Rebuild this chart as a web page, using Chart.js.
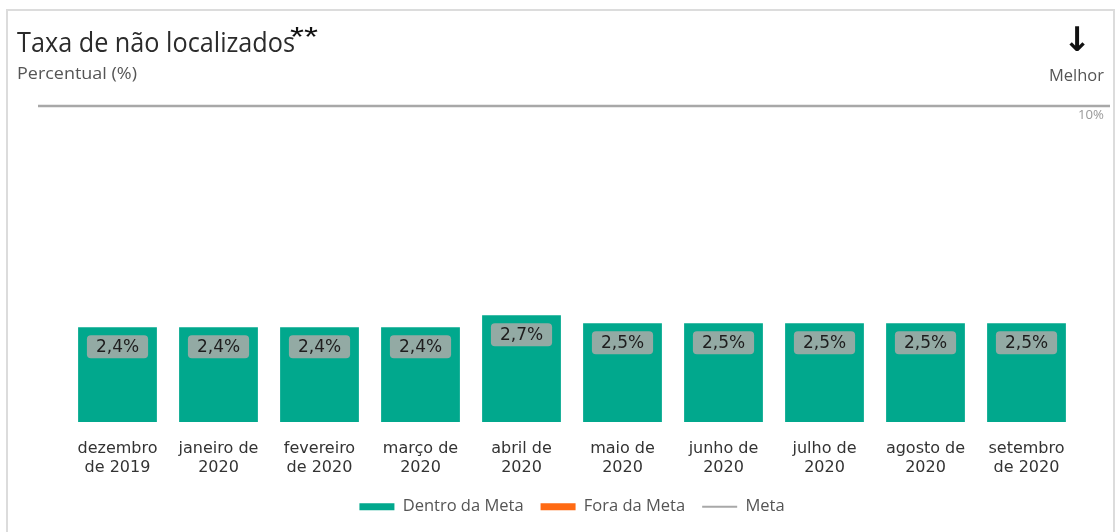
<!DOCTYPE html>
<html>
<head>
<meta charset="utf-8">
<script src="https://cdn.jsdelivr.net/npm/chart.js@4/dist/chart.umd.min.js"></script>
<style>
  html, body { margin:0; padding:0; background:#fff; }
  body { width:1118px; height:532px; position:relative; overflow:hidden; }
  #card { position:absolute; left:6px; top:9px; width:1109px; height:540px; border:2px solid #dcdcdc; box-sizing:border-box; }
  #wrap { position:absolute; left:0; top:0; width:1118px; height:532px; }
  .t { position:absolute; white-space:nowrap; transform-origin:0 0; }
  #title { left:17px; top:23px; font-family:"Open Sans"; font-size:27px; color:#2b2b2b; line-height:38px; }
  #stars { left:290px; top:22px; font-family:"Liberation Sans"; font-size:27px; color:#111; line-height:30px; }
  #sub { left:17px; top:61px; font-family:"Open Sans"; font-size:17px; color:#555; line-height:24px; }
  #arrow { left:1063px; top:20px; font-family:"DejaVu Sans"; font-size:34px; font-weight:bold; color:#111; line-height:38px; }
  #melhor { left:1049px; top:64px; font-family:"Open Sans"; font-size:16px; color:#555; line-height:22px; }
  #metaLbl { left:1078px; top:107px; font-family:"Open Sans"; font-size:12px; color:#999; line-height:16px; }
</style>
</head>
<body>
<div id="card"></div>
<div id="wrap"><canvas id="c" width="1118" height="532"></canvas></div>
<div class="t" id="title" data-fit="278">Taxa de não localizados</div>
<div class="t" id="stars" data-fit="28">**</div>
<div class="t" id="sub" data-fit="120">Percentual (%)</div>
<div class="t" id="arrow">↓</div>
<div class="t" id="melhor" data-fit="55">Melhor</div>
<div class="t" id="metaLbl" data-fit="26">10%</div>
<script>
// ---- data ----
const categories = [
  ['dezembro','de 2019'], ['janeiro de','2020'], ['fevereiro','de 2020'], ['março de','2020'],
  ['abril de','2020'], ['maio de','2020'], ['junho de','2020'], ['julho de','2020'],
  ['agosto de','2020'], ['setembro','de 2020']
];
const taxaValues = [2.4, 2.4, 2.4, 2.4, 2.7, 2.5, 2.5, 2.5, 2.5, 2.5];
const metaValues = [10, 10, 10, 10, 10, 10, 10, 10, 10, 10];
const seriesNames = ['Dentro da Meta', 'Fora da Meta', 'Meta'];

const dentroValues = taxaValues.map((v, i) => v <= metaValues[i] ? v : null);
const foraValues = taxaValues.map((v, i) => v > metaValues[i] ? v : null);

const TEAL = '#01a88d';
const ORANGE = '#ff6a13';
const GREY = '#a8a8a8';

// fit text widths
document.querySelectorAll('[data-fit]').forEach(el => {
  const target = parseFloat(el.dataset.fit);
  const w = el.getBoundingClientRect().width;
  if (w > 0) el.style.transform = 'scaleX(' + (target / w) + ')';
});

const fmt = v => v.toFixed(1).replace('.', ',') + '%';

const labelPlugin = {
  id: 'barLabels',
  afterDatasetsDraw(chart) {
    const ctx = chart.ctx;
    ctx.save();
    ctx.font = '17px "DejaVu Sans"';
    ctx.textAlign = 'center';
    ctx.textBaseline = 'middle';
    chart.data.datasets.forEach((ds, di) => {
      if (ds.type === 'line') return;
      const meta = chart.getDatasetMeta(di);
      meta.data.forEach((bar, i) => {
        const v = ds.data[i];
        if (v == null) return;
        const txt = fmt(v);
        const tw = ctx.measureText(txt).width;
        const w = tw + 18, h = 23;
        const x = bar.x - w / 2, y = bar.y + 8;
        ctx.fillStyle = '#93aaa4';
        ctx.beginPath();
        ctx.roundRect(x, y, w, h, 4);
        ctx.fill();
        ctx.fillStyle = '#1e1e1e';
        ctx.fillText(txt, bar.x, y + h / 2 + 1);
      });
    });
    ctx.restore();
  }
};

const metaLinePlugin = {
  id: 'metaLine',
  afterDatasetsDraw(chart) {
    const s = chart.scales.yMeta;
    const y = s.getPixelForValue(metaValues[0]);
    const a = chart.chartArea;
    const ctx = chart.ctx;
    ctx.save();
    ctx.strokeStyle = GREY;
    ctx.lineWidth = 2.5;
    ctx.beginPath();
    ctx.moveTo(a.left - 29, y);
    ctx.lineTo(a.right + 33, y);
    ctx.stroke();
    ctx.restore();
  }
};

new Chart(document.getElementById('c'), {
  data: {
    labels: categories,
    datasets: [
      { type: 'bar', label: seriesNames[0], data: dentroValues, backgroundColor: TEAL, grouped: false,
        barPercentage: 0.78, categoryPercentage: 1, yAxisID: 'y' },
      { type: 'bar', label: seriesNames[1], data: foraValues, backgroundColor: ORANGE, grouped: false,
        barPercentage: 0.78, categoryPercentage: 1, yAxisID: 'y' },
      { type: 'line', label: seriesNames[2], data: metaValues, borderColor: GREY, backgroundColor: GREY,
        showLine: false, pointRadius: 0, yAxisID: 'yMeta' }
    ]
  },
  options: {
    responsive: false,
    animation: false,
    layout: { padding: { left: 67, right: 41, top: 106, bottom: 7 } },
    scales: {
      x: {
        grid: { display: false, drawTicks: false },
        border: { display: false },
        ticks: { padding: 17, color: '#333', font: { family: 'DejaVu Sans', size: 16, lineHeight: 1.2 }, maxRotation: 0, autoSkip: false },
        afterFit: s => { s.height = 59.5; }
      },
      y: { display: false, min: 0, max: 8 },
      yMeta: { display: false, min: 0, max: 10 }
    },
    plugins: {
      tooltip: { enabled: false },
      legend: {
        position: 'bottom',
        labels: {
          color: '#555',
          font: { family: 'Open Sans', size: 16.5 },
          usePointStyle: true,
          pointStyleWidth: 35,
          boxHeight: 7,
          padding: 17,
          generateLabels: chart => chart.data.datasets.map((ds, i) => ({
            text: ds.label,
            fillStyle: ds.type === 'line' ? GREY : ds.backgroundColor,
            strokeStyle: ds.type === 'line' ? GREY : ds.backgroundColor,
            lineWidth: ds.type === 'line' ? 2 : 0,
            pointStyle: ds.type === 'line' ? 'line' : 'rect',
            fontColor: '#555',
            hidden: false,
            datasetIndex: i
          }))
        }
      }
    }
  },
  plugins: [labelPlugin, metaLinePlugin]
});
</script>
</body>
</html>
